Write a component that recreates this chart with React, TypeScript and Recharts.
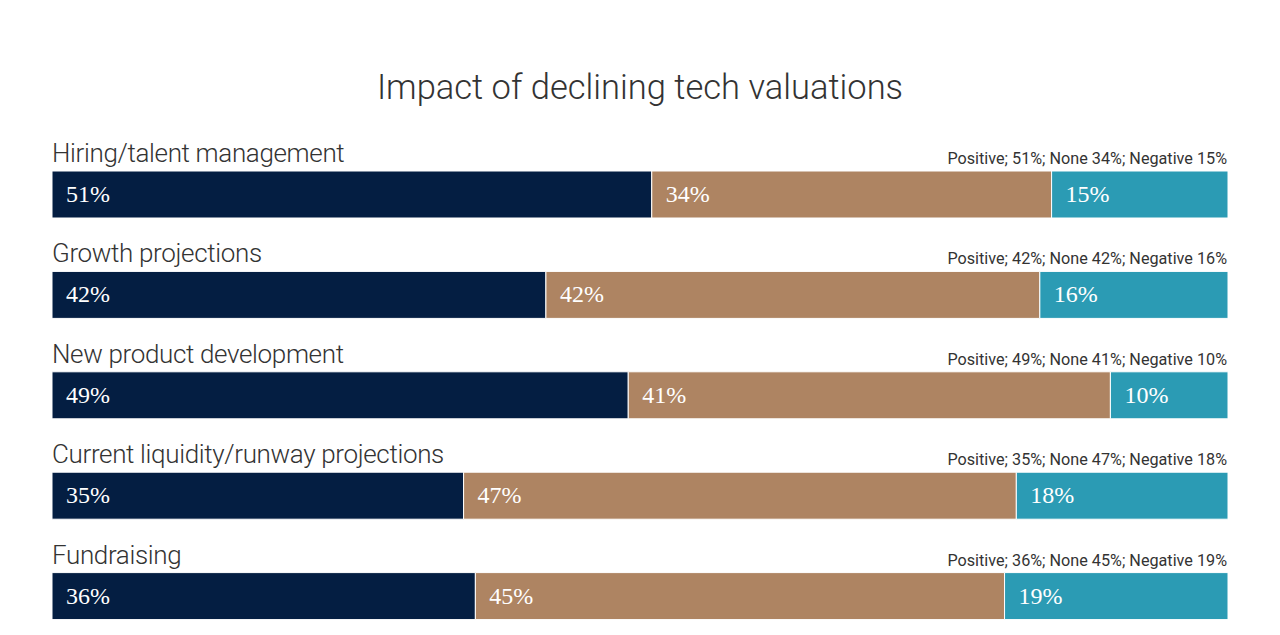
import { BarChart, Bar, XAxis, YAxis, LabelList } from "recharts"

const categories = [
  "Hiring/talent management",
  "Growth projections",
  "New product development",
  "Current liquidity/runway projections",
  "Fundraising",
]
const positive = [51, 42, 49, 35, 36]
const none = [34, 42, 41, 47, 45]
const negative = [15, 16, 10, 18, 19]

const COLORS = { positive: "#041e42", none: "#ae8462", negative: "#2b9bb4" }

const data = categories.map((category, i) => ({
  category,
  positive: positive[i],
  none: none[i],
  negative: negative[i],
  summary: `Positive; ${positive[i]}%; None ${none[i]}%; Negative ${negative[i]}%`,
}))

const sans = "Roboto, 'Noto Sans', sans-serif"

function ValueLabel(props: any) {
  const { x, y, value } = props
  return (
    <text
      x={x + 14}
      y={y + 31}
      fill="#fff"
      fontFamily="'Liberation Serif', 'DejaVu Serif', serif"
      fontSize={24}
    >
      {value}%
    </text>
  )
}

function CategoryLabel(props: any) {
  const { x, y, value } = props
  return (
    <text
      x={x}
      y={y - 9}
      fill="#333"
      fontFamily={sans}
      fontWeight={300}
      fontSize={26}
      letterSpacing={-0.35}
    >
      {value}
    </text>
  )
}

function SummaryLabel(props: any) {
  const { x, y, width, value } = props
  return (
    <text
      x={x + width - 1}
      y={y - 7}
      fill="#333"
      fontFamily={sans}
      fontSize={16.2}
      textAnchor="end"
    >
      {value}
    </text>
  )
}

export default function App() {
  return (
    <div
      style={{
        position: "absolute",
        left: 0,
        top: 0,
        width: 1280,
        height: 635,
        overflow: "hidden",
        background: "#fff",
      }}
    >
      <div
        style={{
          position: "absolute",
          top: 67,
          width: 1280,
          textAlign: "center",
          fontFamily: sans,
          fontWeight: 300,
          fontSize: 34.5,
          color: "#333",
        }}
      >
        Impact of declining tech valuations
      </div>
      <BarChart
        width={1280}
        height={646}
        data={data}
        layout="vertical"
        margin={{ top: 144, right: 52, bottom: 0, left: 52 }}
        barSize={47}
      >
        <XAxis type="number" domain={[0, 100]} hide />
        <YAxis type="category" dataKey="category" hide />
        <Bar dataKey="positive" stackId="a" fill={COLORS.positive} stroke="#fff" strokeWidth={1} isAnimationActive={false}>
          <LabelList dataKey="positive" content={ValueLabel} />
          <LabelList dataKey="category" content={CategoryLabel} />
        </Bar>
        <Bar dataKey="none" stackId="a" fill={COLORS.none} stroke="#fff" strokeWidth={1} isAnimationActive={false}>
          <LabelList dataKey="none" content={ValueLabel} />
        </Bar>
        <Bar dataKey="negative" stackId="a" fill={COLORS.negative} stroke="#fff" strokeWidth={1} isAnimationActive={false}>
          <LabelList dataKey="negative" content={ValueLabel} />
          <LabelList dataKey="summary" content={SummaryLabel} />
        </Bar>
      </BarChart>
    </div>
  )
}
